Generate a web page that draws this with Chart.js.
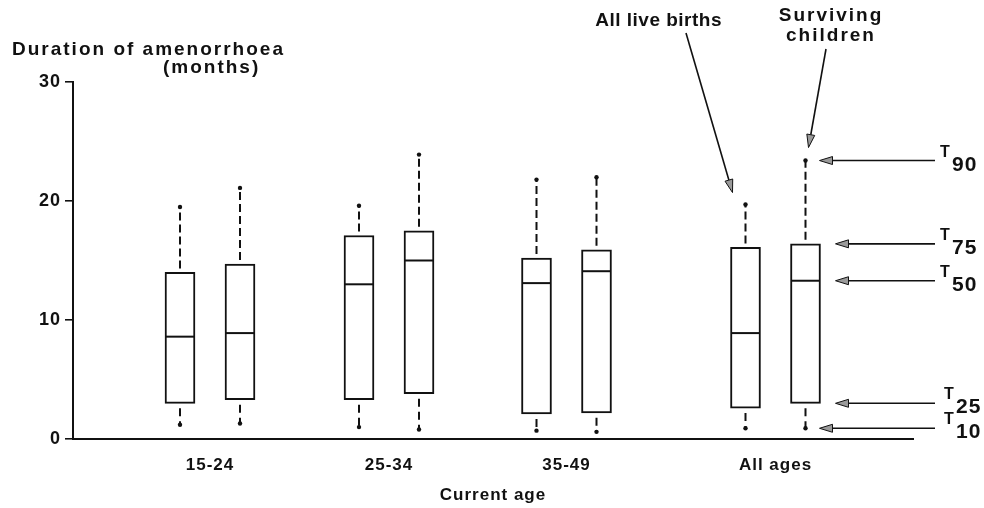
<!DOCTYPE html>
<html>
<head>
<meta charset="utf-8">
<script src="https://cdn.jsdelivr.net/npm/chart.js@4/dist/chart.umd.min.js"></script>
<style>
  html, body { margin: 0; padding: 0; background: #fff; }
  #wrap { width: 984px; height: 508px; position: relative; }
</style>
</head>
<body>
<div id="wrap"><canvas id="c" width="984" height="508"></canvas></div>
<script>
// Duration of post-partum amenorrhoea (months), percentiles by current age
const ageGroups = ['15-24', '25-34', '35-49', 'All ages'];
const seriesNames = ['All live births', 'Surviving children'];

const birthsT10 = [1.2, 1.0, 0.7, 0.9];
const birthsT25 = [3.0, 3.3, 2.1, 2.6];
const birthsT50 = [8.6, 13.0, 13.1, 8.9];
const birthsT75 = [14.0, 17.1, 15.2, 16.1];
const birthsT90 = [19.5, 19.6, 21.8, 19.7];

const survT10 = [1.3, 0.8, 0.6, 0.9];
const survT25 = [3.3, 3.8, 2.2, 3.0];
const survT50 = [8.9, 15.0, 14.1, 13.3];
const survT75 = [14.7, 17.5, 15.9, 16.4];
const survT90 = [21.1, 23.9, 22.0, 23.4];

const yTicks = [0, 10, 20, 30];
const percentileNames = ['90', '75', '50', '25', '10'];

// layout: group centres on the horizontal axis and the spacing of the two boxes
const groupX = [13.7, 31.6, 49.35, 70.25];
const pairOffset = 3.0;

const FONT = "'Liberation Sans', Arial, sans-serif";
const INK = '#111';

const series = [
  { t10: birthsT10, t25: birthsT25, t50: birthsT50, t75: birthsT75, t90: birthsT90, side: -1 },
  { t10: survT10, t25: survT25, t50: survT50, t75: survT75, t90: survT90, side: 1 }
];
const posOf = (s, i) => groupX[i] + s.side * pairOffset;

function boxes(s) {
  return groupX.map((g, i) => ({ x: posOf(s, i), y: [s.t25[i], s.t75[i]] }));
}
function medians() {
  const out = [];
  series.forEach(s => groupX.forEach((g, i) => out.push({ x: posOf(s, i), y: s.t50[i] })));
  return out;
}
function whiskers(from, to) {
  const out = [];
  series.forEach(s => groupX.forEach((g, i) => {
    const x = posOf(s, i);
    out.push({ x, y: s[from][i] }, { x, y: s[to][i] }, { x, y: null });
  }));
  return out;
}
function ends() {
  const out = [];
  series.forEach(s => groupX.forEach((g, i) => {
    const x = posOf(s, i);
    out.push({ x, y: s.t90[i] }, { x, y: s.t10[i] });
  }));
  return out;
}

const boxStyle = {
  type: 'bar', backgroundColor: '#fff', borderColor: INK, borderWidth: 2,
  borderSkipped: false, barThickness: 30, grouped: false, order: 1
};

function arrow(ctx, x0, y0, x1, y1) {
  const a = Math.atan2(y1 - y0, x1 - x0);
  const L = 13, W = 4;
  const c = Math.cos(a), s = Math.sin(a);
  const bx = x1 - c * L, by = y1 - s * L;
  ctx.beginPath();
  ctx.moveTo(x0, y0);
  ctx.lineTo(bx, by);
  ctx.lineWidth = 1.6;
  ctx.strokeStyle = INK;
  ctx.stroke();
  ctx.beginPath();
  ctx.moveTo(x1, y1);
  ctx.lineTo(bx - s * W, by + c * W);
  ctx.lineTo(bx + s * W, by - c * W);
  ctx.closePath();
  ctx.fillStyle = '#9a9a9a';
  ctx.fill();
  ctx.lineWidth = 1;
  ctx.stroke();
}

const annotate = {
  id: 'annotate',
  beforeDraw(chart) { chart.ctx.letterSpacing = '1px'; },
  afterDraw(chart) {
    const { ctx, scales: { x, y } } = chart;
    ctx.save();
    ctx.letterSpacing = '2px';
    ctx.fillStyle = INK;
    ctx.textBaseline = 'alphabetic';
    ctx.font = 'bold 19px ' + FONT;
    ctx.textAlign = 'left';
    ctx.fillText('Duration of amenorrhoea', 12, 55);
    ctx.fillText('(months)', 163, 73);

    // series call-outs pointing at the "All ages" whisker ends
    const last = ageGroups.length - 1;
    const bx = x.getPixelForValue(posOf(series[0], last));
    const by = y.getPixelForValue(series[0].t90[last]);
    const sx = x.getPixelForValue(posOf(series[1], last));
    const sy = y.getPixelForValue(series[1].t90[last]);

    ctx.textAlign = 'center';
    const words = seriesNames[1].split(' ');
    ctx.fillText(words[0], 831, 21);
    ctx.fillText(words[1], 831, 41);
    ctx.letterSpacing = '0.5px';
    ctx.textAlign = 'right';
    ctx.fillText(seriesNames[0], 722, 26);
    arrow(ctx, 686, 33, bx - 13, by - 12);
    arrow(ctx, 826, 49, sx + 3, sy - 13);

    // percentile keys on the right
    const keys = ['t90', 't75', 't50', 't25', 't10'];
    keys.forEach((k, j) => {
      const onBox = (k === 't75' || k === 't50' || k === 't25');
      const ty = y.getPixelForValue(series[1][k][last]);
      const tx = sx + (onBox ? 30 : 14);
      const shift = j >= 3 ? 4 : 0;
      arrow(ctx, 935, ty, tx, ty);
      ctx.fillStyle = INK;
      ctx.textAlign = 'left';
      ctx.letterSpacing = '1px';
      ctx.font = 'bold 16px ' + FONT;
      ctx.fillText('T', 940 + shift, ty - 4);
      ctx.font = 'bold 21px ' + FONT;
      ctx.fillText(percentileNames[j], 952 + shift, ty + 10);
    });
    ctx.restore();
  }
};

new Chart(document.getElementById('c'), {
  type: 'bar',
  data: {
    datasets: [
      Object.assign({ label: seriesNames[0], data: boxes(series[0]) }, boxStyle),
      Object.assign({ label: seriesNames[1], data: boxes(series[1]) }, boxStyle),
      {
        type: 'scatter', label: 'median', data: medians(), order: 0,
        pointStyle: 'line', pointRadius: 14, pointBorderWidth: 2, pointBorderColor: INK,
        pointHoverRadius: 14
      },
      {
        type: 'line', label: 'upper', data: whiskers('t75', 't90'), order: 2,
        borderColor: INK, borderWidth: 2, borderDash: [8, 4], borderDashOffset: 8,
        pointRadius: 0, spanGaps: false, fill: false
      },
      {
        type: 'line', label: 'lower', data: whiskers('t25', 't10'), order: 2,
        borderColor: INK, borderWidth: 2, borderDash: [8, 5], borderDashOffset: 8,
        pointRadius: 0, spanGaps: false, fill: false
      },
      {
        type: 'scatter', label: 'ends', data: ends(), order: 0,
        pointRadius: 2.2, pointBackgroundColor: INK, pointBorderWidth: 0
      }
    ]
  },
  options: {
    responsive: false,
    animation: false,
    events: [],
    layout: { padding: { top: 82, right: 71, bottom: 0, left: 0 } },
    plugins: { legend: { display: false }, tooltip: { enabled: false } },
    scales: {
      x: {
        type: 'linear', min: 0, max: 84, offset: false,
        grid: { display: false, drawTicks: false, offset: false },
        border: { display: true, color: INK, width: 2 },
        afterBuildTicks: s => { s.ticks = groupX.map(v => ({ value: v })); },
        afterFit: s => { s.height = 69; },
        ticks: {
          color: INK, padding: 16, maxRotation: 0, autoSkip: false,
          font: { family: FONT, size: 17, weight: 'bold' },
          callback: (v, i) => ageGroups[i]
        },
        title: {
          display: true, text: 'Current age', color: INK,
          font: { family: FONT, size: 17, weight: 'bold' },
          padding: { top: 0, bottom: 2 }
        }
      },
      y: {
        type: 'linear', min: 0, max: 30,
        grid: { display: true, drawOnChartArea: false, drawTicks: true, tickLength: 8, color: INK, lineWidth: 1.6 },
        border: { display: true, color: INK, width: 2 },
        afterBuildTicks: s => { s.ticks = yTicks.map(v => ({ value: v })); },
        afterFit: s => { s.width = 73; },
        ticks: {
          color: INK, padding: 4,
          font: { family: FONT, size: 18, weight: 'bold' }
        }
      }
    }
  },
  plugins: [annotate]
});
</script>
</body>
</html>
